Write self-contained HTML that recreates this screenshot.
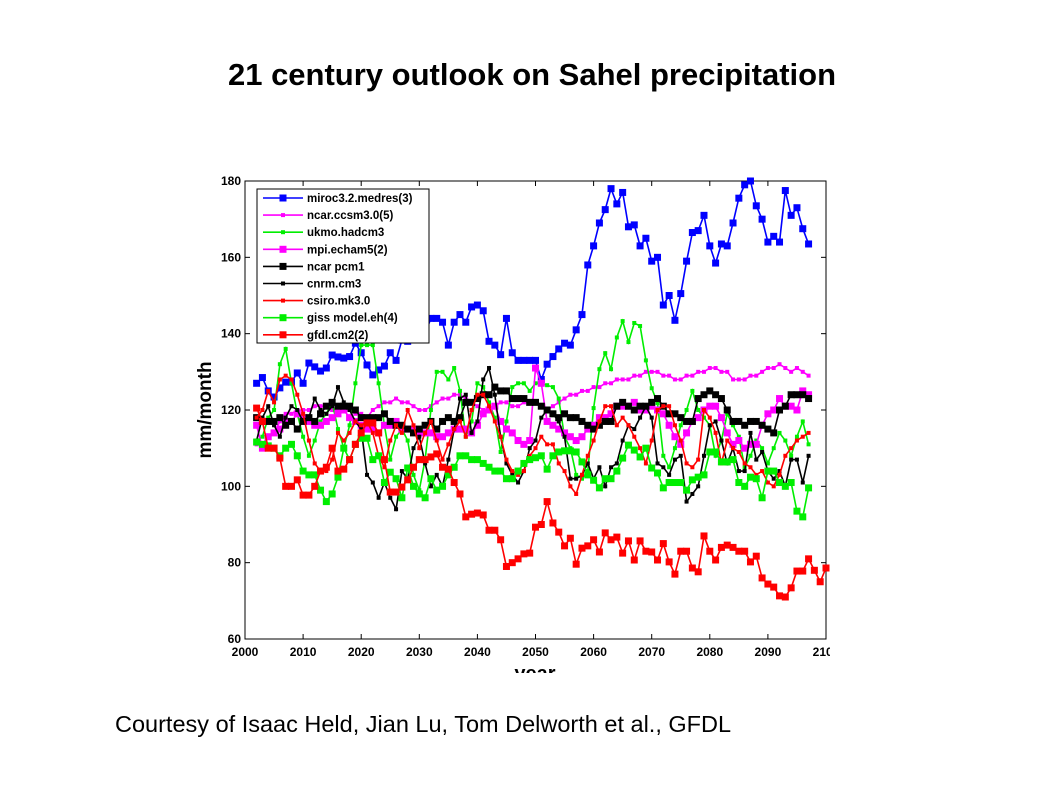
<!DOCTYPE html>
<html><head><meta charset="utf-8"><style>
body{margin:0;background:#fff;width:1058px;height:793px;overflow:hidden;position:relative;font-family:"Liberation Sans",Arial,sans-serif}
#title{position:absolute;left:0;width:1064px;top:57px;text-align:center;font-weight:bold;font-size:31px;color:#000}
#credit{position:absolute;left:115px;top:711px;font-size:23.5px;color:#000}
svg{position:absolute;left:0;top:0}
</style></head><body>
<div id="title">21 century outlook on Sahel precipitation</div>
<svg id="chart" width="830" height="673"></svg>
<div id="credit">Courtesy of Isaac Held, Jian Lu, Tom Delworth et al., GFDL</div>
<script>
const startYear = 2002;
const xTicks = [2000,2010,2020,2030,2040,2050,2060,2070,2080,2090,2100];
const yTicks = [60,80,100,120,140,160,180];
const seriesNames = ["miroc3.2.medres(3)","ncar.ccsm3.0(5)","ukmo.hadcm3","mpi.echam5(2)","ncar pcm1","cnrm.cm3","csiro.mk3.0","giss model.eh(4)","gfdl.cm2(2)"];
const miroc = [127,128.5,125,123.4,125.8,127.3,127.3,129.7,127,132.3,131.3,130.2,131,134.4,133.9,133.6,134,137.5,135,131.8,129.2,130.5,131.5,135,133,138.3,138,140,141,140,144,144,143,137,143,145,143,147,147.5,146,138,137,134.5,144,135,133,133,133,133,128,132,134,136,137.5,137,141,145,158,163,169,172.5,178,174,177,168,168.5,163,165,159,160,147.5,150,143.5,150.5,159,166.5,167,171,163,158.5,163.5,163,169,175.5,179,180,173.5,170,164,165.5,164,177.5,171,173,167.5,163.5];
const ccsm = [111,111,113,114,117,119,119,120,120,120,121,121,121,120,120,120,120,119,119,118,120,121,122,122,123,122,122,121,120,120,121,122,123,123,124,124,123,122,121,120,120,121,122,122,121,121,122,122,122,121,120,121,122,123,124,124,125,125,126,126,127,127,128,128,128,129,129,130,130,130,129,129,128,128,129,129,130,130,131,131,130,130,128,128,128,129,129,130,131,131,132,131,130,131,130,129];
const ukmo = [112,113,118,120,132,136,127,119,113,108,112,117,119,122,115,110,116,127,137,137,137,127,116,107,113,115,112,103,99,107,120,130,130,128,131,125,113,117,127,126,122,118,109,117,126,127,127,125,127,127,126.5,126,123,113,110,103,102,104,120.5,130.7,134.9,130.7,139,143.3,137.8,142.8,142,133,125.7,121.8,108,105,110,116,120,125,120,118,116,108,112,119,116,113,105,108,112,110,106,110,114,112,108,113,117,111];
const echam = [116,110,113,114,115,117,117,119,118,117,116,116,117,118,119,120,118,117,116,115,115,114,116,116,117,115,115,115,114,114,114,113,113,114,115,115,115,114,116,119,120,121,117,115,114,112,111,112,131,127,117,116,115,114,113,112,113,115,116,118,118,119,121,121,121,122,120,120,121,120,119,116,113,111,114,117,118,120,121,121,118,114,111,112,110,111,111,116,119,120,123,121,121,120,125,124];
const pcm = [118,117,117,117,118,116,117,115,117,118,117,119,121,122,121,121,121,120,118,118,118,118,119,117,116,116,115,114,115,116,117,115,117,118,117,118,122,122,123,124,124,126,125,125,123,123,123,122,122,121,120,119,118,119,118,118,117,116,115,116,117,117,121,122,121,120,121,121,122,123,121,119,119,118,117,117,123,124,125,124,123,120,117,117,116,117,117,116,115,114,120,121,124,124,124,123];
const cnrm = [112,118,121,116,113,118,121,120,117,118,123,120,119,121,126,122,120,117,115,103,101,97,101,97,94,104,102,110,113,106,100,103,100,107,115,123,124,114,117,128,131,124,113,106,103,101,104,110,112,118,120,119,117,113,102,102,103,106,102,105,100,105,106,112,116,115,118,121,118,106,105,103,107,108,96,98,100,108,116,117,112,106,110,104,104,114,107,109,104,102,104,100,107,107,101,108];
const csiro = [118,120,125,122,128,129,128,124,119,112,106,104,104,107,114,112,114,117,116,117,114,108,105,112,116,114,120,116,110,114,117,112,107,111,115,117,113,120,124,124,121,117,113,107,104,103,104,108,110,113,111,111,106,104,100,98,103,108,112,117,121,121,116,118,116,113,110,106,112,120,121,121,116,112,106,105,107,120,118,114,106,112,110,109,106,105,103,104,101,100,103,108,110,112,113,114];
const giss = [111.6,111,110.6,110,108,110,111,108,104,103,103,99,96,98,102.4,110,107,111,112.6,112.6,107,108,101,103.7,102,97,104.8,100,98,97,102,99,100,103,105,108,108,107,107,106,105,104,104,102,102,104,106,107,107.5,108,104.5,108,109,109.3,109.3,109,106.4,103,101.6,99.6,102,102,104,107.4,110.8,109.5,107.7,110,104.8,103.5,99.6,101,101,101,99,101.7,102.4,103,109,109,106.4,106.4,107,101,100,102.4,102,97,104,104,101,100,101,93.5,92,99.6];
const gfdl = [120.5,117,110,110,107.4,100,100,101.7,97.7,97.7,100,104,105,110,104,104.5,107,111,114,116.6,116.6,114,107,98.5,98.5,99.8,101.7,105,107,107,107.7,108.5,105,104.5,101,98,92,92.7,93,92.5,88.5,88.5,86,79,80,81,82.3,82.5,89.3,90,96,90.4,88,84.4,86.4,79.6,83.8,84.4,86,82.8,87.8,86,86.7,82.5,85.7,80.7,85.7,83,82.8,80.7,85,80.2,77,83,83,78.6,77.6,87,83,80.7,84,84.6,84,83,83,80.2,81.7,76,74.4,73.6,71.3,71,73.4,77.8,77.8,81,78,75,78.6];
const seriesData = [miroc,ccsm,ukmo,echam,pcm,cnrm,csiro,giss,gfdl];
const colors = ["#0000ff","#ff00ff","#00ee00","#ff00ff","#000000","#000000","#ff0000","#00ee00","#ff0000"];
const markerSize = [7,4,4,7,7,4,4,7,7];

const L=245,R=826,T=181,B=639;
const xs = y => L + (y-2000)/100*(R-L);
const ys = v => B - (v-60)/120*(B-T);
const NS="http://www.w3.org/2000/svg";
const svg=document.getElementById('chart');
function mk(tag,attrs){const e=document.createElementNS(NS,tag);for(const k in attrs)e.setAttribute(k,attrs[k]);svg.appendChild(e);return e;}

let frame=mk('rect',{x:L,y:T,width:R-L,height:B-T,fill:'#fff',stroke:'#000','stroke-width':1});



xTicks.forEach(t=>{
  const x=xs(t);
  const a=mk('line',{x1:x,x2:x,y1:B,y2:B-5,stroke:'#000'});
  
  
  const b=mk('line',{x1:x,x2:x,y1:T,y2:T+5,stroke:'#000'});
  
  
  const tx=mk('text',{x:x,y:B+17,'text-anchor':'middle','font-size':12,'font-weight':'bold','font-family':'Liberation Sans, sans-serif'});
  tx.textContent=t;
  
  
});
yTicks.forEach(t=>{
  const y=ys(t);
  const a=mk('line',{x1:L,x2:L+5,y1:y,y2:y,stroke:'#000'});
  
  
  const b=mk('line',{x1:R,x2:R-5,y1:y,y2:y,stroke:'#000'});
  
  
  const tx=mk('text',{x:L-4,y:y+4,'text-anchor':'end','font-size':12,'font-weight':'bold','font-family':'Liberation Sans, sans-serif'});
  tx.textContent=t;
  
  
});
const xl=mk('text',{x:535,y:680,'text-anchor':'middle','font-size':20,'font-weight':'bold','font-family':'Liberation Sans, sans-serif'});
xl.textContent='year';


const yl=mk('text',{x:0,y:0,'text-anchor':'middle','font-size':19,'font-weight':'bold','font-family':'Liberation Sans, sans-serif',transform:'translate(211,410) rotate(-90)'});
yl.textContent='mm/month';



seriesData.forEach((arr,i)=>{
  const pts=arr.map((v,j)=>xs(startYear+j).toFixed(1)+','+ys(v).toFixed(1)).join(' ');
  const pl=mk('polyline',{points:pts,fill:'none',stroke:colors[i],'stroke-width':1.6});
  
  
  const s=markerSize[i];
  arr.forEach((v,j)=>{
    const r=mk('rect',{x:xs(startYear+j)-s/2,y:ys(v)-s/2,width:s,height:s,fill:colors[i]});
    
    
  });
});

const lg=mk('rect',{x:257,y:189,width:172,height:154,fill:'#fff',stroke:'#000','stroke-width':1});


seriesNames.forEach((n,i)=>{
  const y=198+i*17.1;
  const l=mk('line',{x1:263,x2:303,y1:y,y2:y,stroke:colors[i],'stroke-width':1.6});
  
  
  const s=markerSize[i];
  const m=mk('rect',{x:283-s/2,y:y-s/2,width:s,height:s,fill:colors[i]});
  
  
  const t=mk('text',{x:307,y:y+4,'font-size':11.5,'font-weight':'bold','font-family':'Liberation Sans, sans-serif'});
  t.textContent=n;
  
  
});
</script>
</body></html>
